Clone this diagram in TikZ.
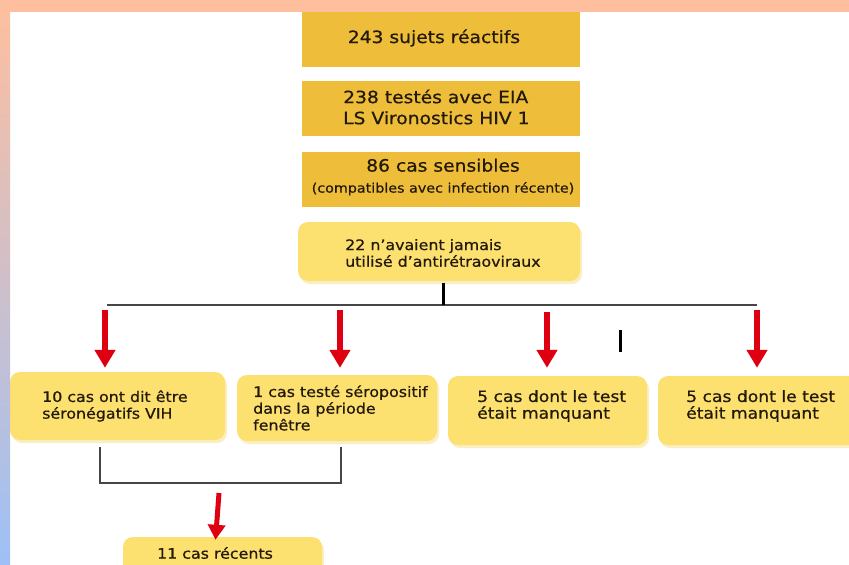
\documentclass[tikz,border=0pt]{standalone}
\usepackage{fontspec}
\setmainfont[FakeStretch=1.1,FakeBold=0.6]{DejaVu Sans}
\usetikzlibrary{arrows.meta,shadows}
\definecolor{gold}{RGB}{238,190,58}
\definecolor{lighty}{RGB}{252,224,112}
\definecolor{shadowy}{RGB}{250,238,195}
\definecolor{peach}{RGB}{255,191,158}
\definecolor{paley}{RGB}{248,222,175}
\definecolor{bandblue}{RGB}{158,192,246}
\definecolor{arrowred}{RGB}{222,0,16}
\definecolor{inktxt}{RGB}{35,25,10}
\definecolor{linegray}{RGB}{70,70,70}
\begin{document}
\begin{tikzpicture}[x=1pt,y=-1pt,
  goldbox/.style={fill=gold, minimum width=278pt, minimum height=55pt, inner sep=0pt},
  ybox/.style={fill=lighty, rounded corners=10pt, inner sep=0pt,
    general shadow={fill=shadowy, rounded corners=10pt, shadow xshift=2pt, shadow yshift=-3pt}},
  bigtxt/.style={text=inktxt, inner sep=0pt, font=\fontsize{17}{21}\selectfont, align=left},
  txt/.style={text=inktxt, inner sep=0pt, font=\fontsize{14.4}{16.7}\selectfont, align=left},
  bigger/.style={font=\fontsize{15.6}{16.7}\selectfont},
  redarrow/.style={draw=arrowred, line width=6pt, -{Triangle[width=20pt,length=18pt]}},
  tick/.style={draw=black, line width=3pt},
  conn/.style={draw=linegray, line width=1.5pt}
]
\useasboundingbox (0,0) rectangle (849,565);
\clip (0,0) rectangle (849,565);
\fill[white] (0,0) rectangle (849,565);

% golden boxes
\node[goldbox] (b1) at (441,39.5) {};
\node[goldbox] (b2) at (441,108.5) {};
\node[goldbox] (b3) at (441,179.5) {};
\node[bigtxt, anchor=center] (t1) at (434,38) {243 sujets réactifs};
\node[bigtxt, anchor=west] (t2) at (343,107) {238 testés avec EIA\\LS Vironostics HIV 1};
\node[bigtxt, anchor=center, align=center] (t3) at (443,177) {86 cas sensibles\\{\fontsize{13}{15}\selectfont (compatibles avec infection récente)}};

% light boxes
\node[ybox, minimum width=282pt, minimum height=59pt] (b4) at (439,251.5) {};
\node[txt, anchor=west] (t4) at (345,253) {22 n'avaient jamais\\utilisé d'antirétraoviraux};

\node[ybox, minimum width=215pt, minimum height=68pt] (b5) at (117.5,406) {};
\node[ybox, minimum width=200pt, minimum height=66pt] (b6) at (337,408) {};
\node[ybox, minimum width=199pt, minimum height=69pt] (b7) at (547.5,410.5) {};
\node[ybox, minimum width=202pt, minimum height=69pt] (b8) at (759,410.5) {};
\node[ybox, minimum width=199pt, minimum height=38pt] (b9) at (222.5,556) {};

\node[txt, anchor=west] (t5) at (42,406) {10 cas ont dit être\\séronégatifs VIH};
\node[txt, anchor=west] (t6) at (253,408) {1 cas testé séropositif\\dans la période\\fenêtre};
\node[txt, bigger, anchor=west] (t7) at (477,406) {5 cas dont le test\\était manquant};
\node[txt, bigger, anchor=west] (t8) at (686,406) {5 cas dont le test\\était manquant};
\node[txt, anchor=center] (t9) at (215,553) {11 cas récents};

% horizontal distribution line
\coordinate (hl) at (107,305);
\coordinate (hr) at (757,305);
\draw[conn] (hl) -- (hr);
\draw[tick] ([xshift=4pt,yshift=-2pt]b4.south) -- ([xshift=4pt]b4.south |- hl);

% red arrows
\coordinate (a1) at (105,310);
\coordinate (a2) at (340,310);
\coordinate (a3) at (547,312);
\coordinate (a4) at (757,310);
\draw[redarrow] (a1) -- ([yshift=4pt]b5.north -| a1);
\draw[redarrow] (a2) -- ([yshift=7pt]b6.north -| a2);
\draw[redarrow] (a3) -- ([yshift=8pt]b7.north -| a3);
\draw[redarrow] (a4) -- ([yshift=8pt]b8.north -| a4);

% stray tick
\coordinate (s1) at (620,330);
\coordinate (s2) at (620,352);
\draw[tick] (s1) -- (s2);

% bracket
\coordinate (k1) at (100,447);
\coordinate (k2) at (100,483);
\coordinate (k3) at (341,483);
\coordinate (k4) at (341,447);
\draw[conn] (k1) -- (k2) -- (k3) -- (k4);
\coordinate (r1) at (219,493);
\draw[draw=arrowred, line width=5pt, -{Triangle[width=17pt,length=15pt]}] (r1) -- ([xshift=-7pt,yshift=-3pt]b9.north);

% background bands
\fill[peach] (0,0) rectangle (849,12);
\shade[top color=peach, middle color=paley, bottom color=bandblue] (0,0) rectangle (10,565);
\end{tikzpicture}
\end{document}
